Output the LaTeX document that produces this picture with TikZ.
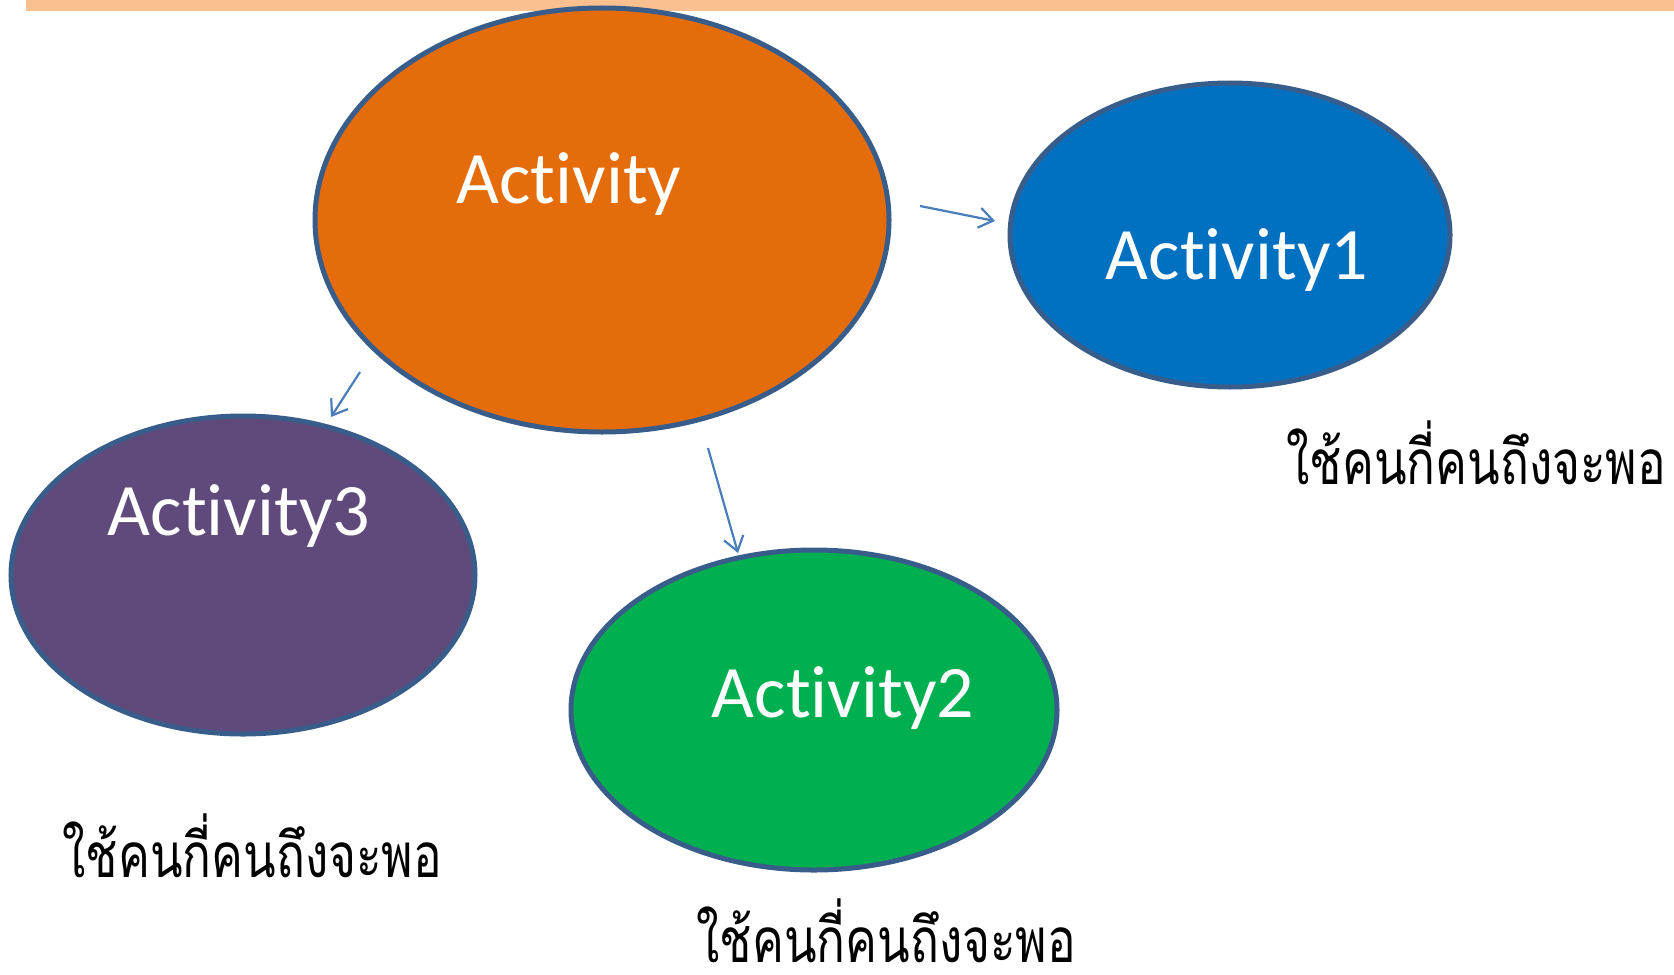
\documentclass[tikz,border=0pt]{standalone}
\usepackage{fontspec}
\setmainfont{Carlito}[Ligatures=NoCommon]
\newfontfamily\thaifont[Script=Thai,FakeStretch=0.77]{Loma}
\usetikzlibrary{shapes.geometric,arrows.meta}
\definecolor{barorange}{HTML}{FAC090}
\definecolor{rimblue}{HTML}{385D8A}
\definecolor{fillorange}{HTML}{E46C0A}
\definecolor{fillblue}{HTML}{0070C0}
\definecolor{fillpurple}{HTML}{604A7B}
\definecolor{fillgreen}{HTML}{00B050}
\definecolor{linkblue}{HTML}{4A7EBB}
\tikzset{
  blob/.style={ellipse, draw=rimblue, line width=2.5pt, inner sep=0pt},
  actlabel/.style={text=white, font=\fontsize{37}{44}\selectfont, inner sep=0pt},
  note/.style={font=\thaifont\fontsize{31}{36}\selectfont, inner sep=0pt, anchor=base west},
  link/.style={draw=linkblue, line width=1.1pt, -{Straight Barb[length=7pt,width=10pt,line width=1.1pt]}}
}
\begin{document}
\begin{tikzpicture}[x=0.5pt,y=-0.5pt]
  \useasboundingbox (0,0) rectangle (1674,974);
  % header band
  \fill[barorange] (26,0) rectangle (1674,11);
  % activity ellipses
  \node[blob, fill=fillorange, minimum width=287pt, minimum height=212pt] (act) at (602,220) {};
  \node[blob, fill=fillblue, minimum width=220pt, minimum height=152pt] (act1) at (1230,235) {};
  \node[blob, fill=fillpurple, minimum width=232pt, minimum height=159pt] (act3) at (243,575) {};
  \node[blob, fill=fillgreen, minimum width=243pt, minimum height=160pt] (act2) at (814,710) {};
  % labels
  \node[actlabel] (tact) at (569,184) {Activity};
  \node[actlabel] (tact1) at (1237,260) {Activity1};
  \node[actlabel] (tact3) at (239,516) {Activity3};
  \node[actlabel] (tact2) at (843,698) {Activity2};
  % notes
  \node[note] (n1) at (1286,484) {ใช้คนกี่คนถึงจะพอ};
  \node[note] (n3) at (62,877) {ใช้คนกี่คนถึงจะพอ};
  \node[note] (n2) at (696,962) {ใช้คนกี่คนถึงจะพอ};
  % connectors
  \coordinate (s1) at (920,206);
  \coordinate (e1) at (995,221);
  \coordinate (s3) at (360,372);
  \coordinate (e3) at (331,417);
  \coordinate (s2) at (708,448);
  \coordinate (e2) at (738,553);
  \draw[link] (s1) -- (e1);
  \draw[link] (s3) -- (e3);
  \draw[link] (s2) -- (e2);
\end{tikzpicture}
\end{document}
